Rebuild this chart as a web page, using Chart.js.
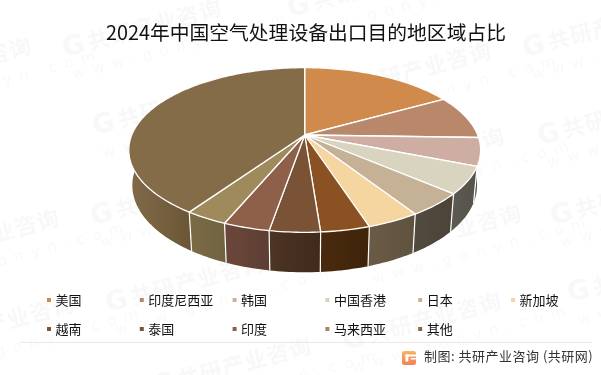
<!DOCTYPE html>
<html lang="zh">
<head>
<meta charset="utf-8">
<title>2024年中国空气处理设备出口目的地区域占比</title>
<script src="https://cdn.jsdelivr.net/npm/chart.js@4"></script>
<style>
  html, body { margin: 0; padding: 0; background: #fff; }
  canvas { display: block; }
</style>
</head>
<body>
<canvas id="chart" width="601" height="375"></canvas>
<script>
const categories = ['美国', '印度尼西亚', '韩国', '中国香港', '日本', '新加坡', '越南', '泰国', '印度', '马来西亚', '其他'];
const shareValues = [16.9, 8.6, 5.5, 5.3, 4.6, 4.1, 3.8, 3.9, 3.6, 3.3, 40.4];
const sliceColors = ['#D08A4C', '#B9886A', '#CEAEA3', '#D9D4C0', '#C5B195', '#F5D6A1', '#8A5222', '#7A5337', '#8E6049', '#9E8A5B', '#856C48'];
// dark side wall, left and right end of each slice's gradient
const wallLeft = ['#8A7A66', '#7A6C5C', '#6A6660', '#5C5A52', '#544B3F', '#6A5B45', '#4A2A0F', '#4D3423', '#6B473A', '#7A6B45', '#806948'];
const wallRight = ['#7A6C5C', '#6A6660', '#5A5850', '#55534A', '#4C4339', '#5F533F', '#3E2409', '#402A1C', '#5D3E33', '#716340', '#6A5636'];

const titleText = '2024年中国空气处理设备出口目的地区域占比';
const sourceText = '制图: 共研产业咨询 (共研网)';

// perspective disc: the centre of the pie is not the centre of the ellipse
const topDisc = { cx: 304.7, cy: 135, rx: 173, ry: 79.6 };
const bottomDisc = { cx: 304.7, cy: 169.6, rx: 169.5, ry: 84 };
const tilt = 0.182;

function project(disc, angle) {
  const x = Math.cos(angle);
  const z = Math.sin(angle);
  const w = 1 - tilt * z;
  return { x: disc.cx + disc.rx * x / w, y: disc.cy + disc.ry * z / w, z };
}

function rimPoints(disc, start, end) {
  const steps = Math.max(2, Math.ceil((end - start) / 0.02));
  const pts = [];
  for (let i = 0; i <= steps; i++) {
    pts.push(project(disc, start + (end - start) * i / steps));
  }
  return pts;
}

const watermarkSpots = [
  [-125, 95], [-97, 267], [-82, 353], [65, 57], [95, 135], [93, 225], [108, 312], [155, 395],
  [290, 17], [335, 100], [348, 185], [365, 262], [345, 350], [525, 57], [540, 145], [553, 225], [570, 302]
];

const watermarkPlugin = {
  id: 'watermark',
  beforeDraw(chart) {
    const ctx = chart.ctx;
    ctx.save();
    ctx.fillStyle = '#fff';
    ctx.fillRect(0, 0, chart.width, chart.height);
    watermarkSpots.forEach(([x, y]) => {
      ctx.save();
      ctx.translate(x, y);
      ctx.rotate(-15 * Math.PI / 180);
      ctx.fillStyle = '#f8f8f8';
      ctx.textBaseline = 'alphabetic';
      ctx.font = 'bold 27px "DejaVu Sans"';
      ctx.fillText('G', 0, 0);
      ctx.font = 'bold 22px "Noto Sans CJK SC"';
      ctx.letterSpacing = '1px';
      ctx.fillText('共研产业咨询', 26, 0);
      ctx.font = '15px "DejaVu Sans"';
      ctx.letterSpacing = '8px';
      ctx.fillStyle = '#f9f9f9';
      ctx.fillText('www.gonyn.com', 3, 24);
      ctx.restore();
    });
    ctx.restore();
  }
};

// pie is flattened here, arc angles still come from the chart's own elements
const pie3dPlugin = {
  id: 'pie3d',
  beforeDatasetDraw(chart, args) {
    const ctx = chart.ctx;
    const arcs = chart.getDatasetMeta(args.index).data;
    const colors = chart.data.datasets[args.index].backgroundColor;
    ctx.save();
    ctx.lineJoin = 'round';
    ctx.strokeStyle = '#fff';

    arcs.forEach((arc, i) => {
      const top = rimPoints(topDisc, arc.startAngle, arc.endAngle);
      const bottom = rimPoints(bottomDisc, arc.startAngle, arc.endAngle);
      // gradient runs over the part of the wall that can be seen
      const front = bottom.filter(p => p.z > 0);
      const xs = (front.length ? front : bottom).map(p => p.x);
      const grad = ctx.createLinearGradient(Math.min(...xs), 0, Math.max(...xs), 0);
      grad.addColorStop(0, wallLeft[i]);
      grad.addColorStop(1, wallRight[i]);
      ctx.beginPath();
      top.forEach((p, k) => (k ? ctx.lineTo(p.x, p.y) : ctx.moveTo(p.x, p.y)));
      bottom.reverse().forEach(p => ctx.lineTo(p.x, p.y));
      ctx.closePath();
      ctx.fillStyle = grad;
      ctx.fill();
      // only the vertical edges get a white line
      const a = project(topDisc, arc.startAngle);
      const b = project(bottomDisc, arc.startAngle);
      ctx.lineWidth = 1.2;
      ctx.beginPath();
      ctx.moveTo(a.x, a.y);
      ctx.lineTo(b.x, b.y);
      ctx.stroke();
    });

    arcs.forEach((arc, i) => {
      ctx.beginPath();
      ctx.moveTo(topDisc.cx, topDisc.cy);
      rimPoints(topDisc, arc.startAngle, arc.endAngle).forEach(p => ctx.lineTo(p.x, p.y));
      ctx.closePath();
      ctx.fillStyle = colors[i];
      ctx.fill();
      ctx.lineWidth = 1.3;
      ctx.stroke();
    });
    ctx.restore();
    return false;
  }
};

const gridLegendPlugin = {
  id: 'gridLegend',
  afterDraw(chart) {
    const ctx = chart.ctx;
    const colors = chart.data.datasets[0].backgroundColor;
    ctx.save();
    ctx.font = '13px "Noto Sans CJK SC"';
    ctx.textBaseline = 'middle';
    chart.data.labels.forEach((label, i) => {
      const x = 47 + 92.8 * (i % 6);
      const y = i < 6 ? 300 : 329;
      ctx.fillStyle = colors[i];
      ctx.fillRect(x, y - 2, 4, 4);
      ctx.fillStyle = '#111';
      ctx.fillText(label, x + 8.5, y);
    });

    // footer rule, logo, source
    ctx.strokeStyle = '#e9e9e9';
    ctx.lineWidth = 1;
    ctx.beginPath();
    ctx.moveTo(20, 342.5);
    ctx.lineTo(592, 342.5);
    ctx.stroke();

    const logo = ctx.createLinearGradient(0, 351, 0, 365);
    logo.addColorStop(0, '#f9b25f');
    logo.addColorStop(1, '#f0805a');
    ctx.fillStyle = logo;
    ctx.beginPath();
    ctx.roundRect(402, 351, 14, 14, 2.5);
    ctx.fill();
    ctx.fillStyle = '#fff';
    ctx.fillRect(405.5, 354.5, 10.5, 2);
    ctx.fillRect(405.5, 354.5, 3, 7);
    ctx.fillRect(410.5, 358, 5.5, 1.5);
    ctx.fillStyle = logo;
    ctx.fillRect(408.5, 358, 2, 3.5);

    ctx.font = '13px "Noto Sans CJK SC"';
    ctx.letterSpacing = '0.5px';
    ctx.fillStyle = '#333';
    ctx.fillText(sourceText, 424, 356.5);
    ctx.restore();
  }
};

new Chart(document.getElementById('chart'), {
  type: 'pie',
  data: {
    labels: categories,
    datasets: [{ data: shareValues, backgroundColor: sliceColors, borderWidth: 0 }]
  },
  options: {
    responsive: false,
    animation: false,
    events: [],
    layout: { padding: { left: 11 } },
    plugins: {
      legend: { display: false },
      tooltip: { enabled: false },
      title: {
        display: true,
        text: titleText,
        color: '#111',
        font: { family: '"Noto Sans CJK SC"', size: 19.8, weight: 'normal' },
        padding: { top: 21, bottom: 4 }
      }
    }
  },
  plugins: [watermarkPlugin, pie3dPlugin, gridLegendPlugin]
});
</script>
</body>
</html>
